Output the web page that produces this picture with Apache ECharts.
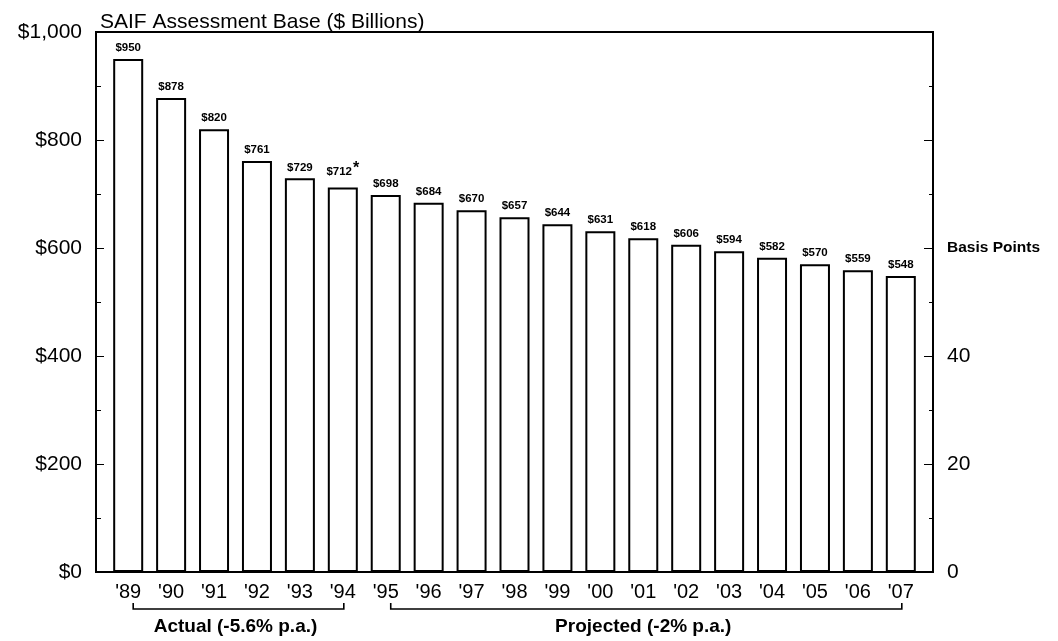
<!DOCTYPE html>
<html>
<head>
<meta charset="utf-8">
<script src="https://cdn.jsdelivr.net/npm/echarts@6/dist/echarts.min.js"></script>
<style>
  html, body { margin: 0; padding: 0; background: #fff; }
  #chart { width: 1058px; height: 641px; }
</style>
</head>
<body>
<div id="chart"></div>
<script>
// Fiscal years shown on the horizontal axis
const years = ["'89", "'90", "'91", "'92", "'93", "'94", "'95", "'96", "'97", "'98",
               "'99", "'00", "'01", "'02", "'03", "'04", "'05", "'06", "'07"];
// SAIF assessment base, $ billions
const assessmentBase = [950, 878, 820, 761, 729, 712, 698, 684, 670, 657,
                        644, 631, 618, 606, 594, 582, 570, 559, 548];
// Years whose value carries a footnote mark
const footnoted = ["'94"];
// Period brackets under the axis: first index, last index, caption
const periods = [
  [0, 5, 'Actual (-5.6% p.a.)'],
  [6, 18, 'Projected (-2% p.a.)']
];
// Left and right axis tick values
const dollarTicks = [0, 200, 400, 600, 800, 1000];
const basisTicks = [0, 20, 40];

const font = 'Liberation Sans, Arial, Helvetica, sans-serif';
const chart = echarts.init(document.getElementById('chart'), null, { renderer: 'canvas' });

const yearIdx = years.map((_, i) => i);

chart.setOption({
  backgroundColor: '#ffffff',
  animation: false,
  textStyle: { fontFamily: font, color: '#000' },
  title: {
    text: 'SAIF Assessment Base ($ Billions)',
    left: 95, top: 7,
    textStyle: { fontFamily: font, fontSize: 21, fontWeight: 'normal', color: '#000' }
  },
  grid: {
    left: 96, right: 125, top: 32, bottom: 69,
    show: true, borderColor: '#000', borderWidth: 2, backgroundColor: 'transparent'
  },
  xAxis: {
    type: 'value',
    min: -0.75, max: yearIdx.length - 0.25,
    axisLine: { show: true, onZero: false, lineStyle: { color: '#000', width: 2 } },
    axisTick: { show: false },
    splitLine: { show: false },
    axisLabel: {
      customValues: yearIdx,
      formatter: v => years[Math.round(v)] || '',
      fontSize: 20, color: '#000', margin: 10, fontFamily: font
    }
  },
  yAxis: [
    {
      type: 'value', min: 0, max: 1000, interval: 200,
      position: 'left',
      axisLine: { show: true, onZero: false, lineStyle: { color: '#000', width: 2 } },
      axisTick: { show: true, inside: true, length: 8, lineStyle: { color: '#000' } },
      minorTick: { show: true, splitNumber: 2, length: 5, lineStyle: { color: '#000' } },
      splitLine: { show: false },
      axisLabel: {
        customValues: dollarTicks,
        formatter: v => '$' + v.toLocaleString('en-US'),
        fontSize: 21, color: '#000', margin: 14, fontFamily: font
      }
    },
    {
      type: 'value', min: 0, max: 100, interval: 20,
      position: 'right',
      axisLine: { show: true, onZero: false, lineStyle: { color: '#000', width: 2 } },
      axisTick: { show: true, inside: true, length: 9, lineStyle: { color: '#000' } },
      minorTick: { show: true, splitNumber: 2, length: 4, lineStyle: { color: '#000' } },
      splitLine: { show: false },
      axisLabel: {
        formatter: v => basisTicks.indexOf(v) >= 0 ? String(v) : (v === 60 ? '{bp|Basis Points}' : ''),
        fontSize: 21, color: '#000', margin: 14, fontFamily: font,
        rich: { bp: { fontSize: 15.5, fontWeight: 'bold', fontFamily: font, color: '#000' } }
      }
    }
  ],
  series: [
    {
      type: 'bar',
      yAxisIndex: 0,
      barWidth: 30,
      data: assessmentBase.map((v, i) => [i, v]),
      itemStyle: { color: '#fff', borderColor: '#000', borderWidth: 2 },
      label: {
        show: true, position: 'top', distance: 5,
        fontSize: 11.5, fontWeight: 'bold', color: '#000', fontFamily: font,
        formatter: p => {
          const y = years[p.data[0]];
          const t = '$' + p.data[1];
          return footnoted.indexOf(y) >= 0 ? t + '{ast|*}' : t;
        },
        rich: { ast: { fontSize: 16, fontWeight: 'bold', color: '#000', verticalAlign: 'top', padding: [0, 0, 6, 1] } }
      }
    },
    {
      type: 'custom',
      yAxisIndex: 0,
      clip: false,
      silent: true,
      encode: { x: [0, 1], y: 3 },
      data: periods.map(p => [p[0], p[1], p[2], 0]),
      renderItem: (params, api) => {
        const a = api.coord([api.value(0), 0]);
        const b = api.coord([api.value(1), 0]);
        const y = a[1] + 37;
        const x0 = a[0] + 5, x1 = b[0] + 1;
        return {
          type: 'group',
          children: [
            {
              type: 'polyline',
              shape: { points: [[x0, y - 6], [x0, y], [x1, y], [x1, y - 6]] },
              style: { stroke: '#000', lineWidth: 1.6, fill: null }
            },
            {
              type: 'text',
              style: {
                text: periods[params.dataIndex][2],
                x: (a[0] + b[0]) / 2, y: y + 18,
                align: 'center', verticalAlign: 'middle',
                font: 'bold 19px ' + font, fill: '#000'
              }
            }
          ]
        };
      }
    }
  ]
});
</script>
</body>
</html>
